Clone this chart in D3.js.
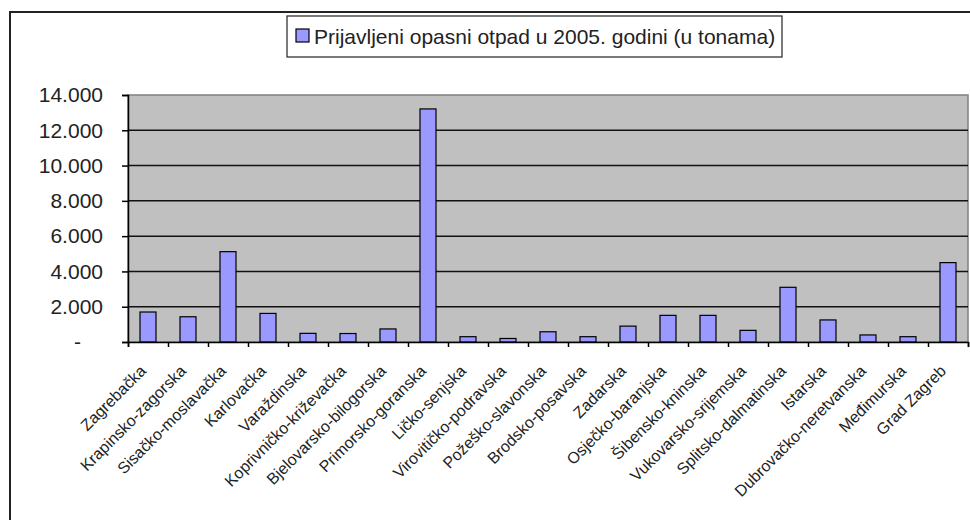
<!DOCTYPE html>
<html>
<head>
<meta charset="utf-8">
<script src="https://cdn.jsdelivr.net/npm/d3@7"></script>
<style>
  html, body { margin: 0; padding: 0; background: #ffffff; overflow: hidden; }
  svg { display: block; overflow: hidden; }
  text { font-family: "Liberation Sans", Arial, sans-serif; fill: #222; }
</style>
</head>
<body>
<svg id="chart" width="970" height="520"></svg>
<script>
const categories = [
  "Zagrebačka", "Krapinsko-zagorska", "Sisačko-moslavačka", "Karlovačka",
  "Varaždinska", "Koprivničko-križevačka", "Bjelovarsko-bilogorska",
  "Primorsko-goranska", "Ličko-senjska", "Virovitičko-podravska",
  "Požeško-slavonska", "Brodsko-posavska", "Zadarska", "Osječko-baranjska",
  "Šibensko-kninska", "Vukovarsko-srijemska", "Splitsko-dalmatinska",
  "Istarska", "Dubrovačko-neretvanska", "Međimurska", "Grad Zagreb"
];
const values = [1700, 1430, 5120, 1620, 490, 480, 740, 13210, 300, 200, 580,
                300, 900, 1510, 1510, 660, 3100, 1250, 400, 300, 4500];
const yTicks = [0, 2000, 4000, 6000, 8000, 10000, 12000, 14000];
const legendLabel = "Prijavljeni opasni otpad u 2005. godini (u tonama)";

const svg = d3.select("#chart");
const pLeft = 128, pRight = 968, pTop = 95, pBottom = 342;

// outer chart border (extends past the canvas on the right and bottom)
svg.append("path")
  .attr("d", "M10,540 L10,12 L990,12")
  .attr("fill", "none").attr("stroke", "#222").attr("stroke-width", 2);

const x = d3.scaleBand().domain(categories).range([pLeft, pRight])
  .paddingInner(0.6).paddingOuter(0.3);
const xi = d3.scaleLinear().domain([0, categories.length]).range([pLeft, pRight]);
const y = d3.scaleLinear().domain([0, 14000]).range([pBottom, pTop]);

// plot background
svg.append("rect").attr("x", pLeft).attr("y", pTop)
  .attr("width", pRight - pLeft).attr("height", pBottom - pTop)
  .attr("fill", "#c0c0c0").attr("stroke", "#808080").attr("stroke-width", 1.5);

// gridlines
svg.append("g").selectAll("line").data(yTicks.filter(d => d > 0 && d < 14000)).join("line")
  .attr("x1", pLeft).attr("x2", pRight)
  .attr("y1", d => y(d)).attr("y2", d => y(d))
  .attr("stroke", "#111").attr("stroke-width", 1.5);

// bars
svg.append("g").selectAll("rect").data(values).join("rect")
  .attr("x", (d, i) => x(categories[i]))
  .attr("width", x.bandwidth())
  .attr("y", d => y(d))
  .attr("height", d => y(0) - y(d))
  .attr("fill", "#9999ff").attr("stroke", "#000").attr("stroke-width", 1.2);

// y axis
const fmtLocale = d3.formatLocale({decimal: ",", thousands: ".", grouping: [3], currency: ["", ""]});
const fmt = fmtLocale.format(",");
const yAxis = svg.append("g").attr("transform", `translate(${pLeft},0)`)
  .call(d3.axisLeft(y).tickValues(yTicks).tickSize(6).tickPadding(19)
    .tickFormat(d => d === 0 ? "-" : fmt(d)));
yAxis.select(".domain").attr("stroke", "#000").attr("stroke-width", 1.5);
yAxis.selectAll(".tick line").attr("stroke", "#000").attr("stroke-width", 1.5);
yAxis.selectAll(".tick text").style("font-size", "21px").attr("fill", "#222")
  .style("font-family", "'Liberation Sans', Arial, sans-serif")
  .attr("dx", d => d === 0 ? -22 : 0);

// x axis tick marks at category boundaries
const xAxis = svg.append("g").attr("transform", `translate(0,${pBottom})`)
  .call(d3.axisBottom(xi).tickValues(d3.range(categories.length + 1)).tickSize(5).tickFormat(""));
xAxis.select(".domain").attr("stroke", "#000").attr("stroke-width", 1.5);
xAxis.selectAll(".tick line").attr("stroke", "#000").attr("stroke-width", 1.5);

// x labels (rotated)
svg.append("g").selectAll("text").data(categories).join("text")
  .attr("transform", d => `translate(${x(d) + x.bandwidth() / 2 - 1},${372}) rotate(-45)`)
  .attr("text-anchor", "end")
  .style("font-size", "16px")
  .text(d => d);

// legend
const lg = svg.append("g");
lg.append("rect").attr("x", 287).attr("y", 16).attr("width", 495).attr("height", 41)
  .attr("fill", "#fff").attr("stroke", "#222").attr("stroke-width", 1.2);
lg.append("rect").attr("x", 296).attr("y", 29).attr("width", 13).attr("height", 13)
  .attr("fill", "#9999ff").attr("stroke", "#000").attr("stroke-width", 1.2);
lg.append("text").attr("x", 314).attr("y", 44).style("font-size", "21px").text(legendLabel);
</script>
</body>
</html>
